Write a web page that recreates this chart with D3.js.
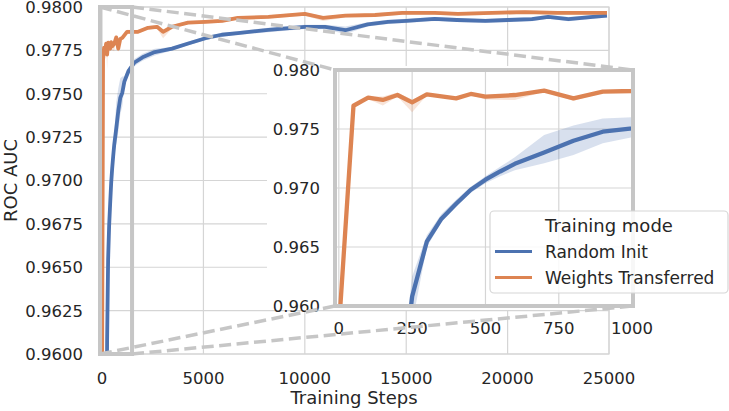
<!DOCTYPE html>
<html><head><meta charset="utf-8">
<script src="https://cdn.jsdelivr.net/npm/d3@7"></script>
<style>html,body{margin:0;padding:0;background:#fff;}svg{display:block;font-family:"DejaVu Sans",sans-serif;}</style>
</head><body>
<svg id="c" width="729" height="411"></svg>
<script>
// ---------- data ----------
const seriesNames = ["Random Init", "Weights Transferred"];
const colors = ["#4c72b0", "#dd8452"];

const blueSteps = [200,250,300,350,400,450,500,550,600,700,800,900,1000,1100,1300,1600,2000,2600,3450,4250,5100,5900,6700,8200,10000,11000,12000,13100,14100,15000,16400,17500,18900,20000,21200,22000,23000,24200,24900];
const blueMean  = [0.9500,0.9608,0.96545,0.9674,0.96866,0.96985,0.9707,0.9714,0.97205,0.9730,0.9740,0.97477,0.97506,0.9757,0.9763,0.9768,0.9771,0.9774,0.9776,0.9779,0.9782,0.9784,0.9785,0.97868,0.97885,0.97885,0.97866,0.9790,0.97914,0.9792,0.97931,0.97925,0.9792,0.97925,0.9793,0.97943,0.9793,0.97943,0.9795];
const blueLow   = [0.9480,0.9585,0.9650,0.9671,0.9684,0.9696,0.9704,0.9710,0.9715,0.9721,0.9728,0.9738,0.9743,0.9754,0.9761,0.9766,0.9769,0.9772,0.9775,0.9778,0.9781,0.9783,0.9784,0.97855,0.97873,0.97872,0.97845,0.97888,0.97902,0.97908,0.9792,0.97913,0.97908,0.97913,0.97918,0.97932,0.97918,0.97932,0.9794];
const blueHigh  = [0.9520,0.9625,0.9660,0.9678,0.9690,0.9701,0.9710,0.9718,0.9726,0.9745,0.9753,0.9759,0.9760,0.9760,0.9765,0.9770,0.9773,0.9776,0.9777,0.9780,0.9783,0.9785,0.9786,0.97881,0.97897,0.97898,0.97887,0.97912,0.97926,0.97932,0.97942,0.97937,0.97932,0.97937,0.97942,0.97954,0.97942,0.97954,0.9796];

const orangeSteps = [0,50,100,150,200,250,300,400,450,500,600,700,800,900,1000,1230,1775,2270,2710,3010,3450,4240,5080,5920,6700,8200,10000,10900,12000,13460,14800,16400,17550,19230,20860,22480,24900];
const orangeMean  = [0.9580,0.97697,0.97765,0.97746,0.97788,0.97726,0.97794,0.9776,0.97797,0.97774,0.97788,0.97825,0.9776,0.97816,0.97822,0.97857,0.97857,0.9788,0.97886,0.97857,0.97886,0.9791,0.97914,0.9792,0.97937,0.97943,0.9796,0.97937,0.9795,0.97954,0.97966,0.97966,0.9796,0.97966,0.97971,0.97966,0.97966];
const orangeLow   = [0.9575,0.97685,0.97755,0.9770,0.97775,0.97642,0.97785,0.97745,0.97787,0.9775,0.97745,0.97815,0.9774,0.97806,0.97812,0.97845,0.97847,0.9787,0.97876,0.9782,0.97876,0.979,0.97904,0.9791,0.97927,0.97933,0.9795,0.9792,0.9794,0.97944,0.97956,0.97956,0.9795,0.97956,0.97961,0.97956,0.97956];
const orangeHigh  = [0.9585,0.97709,0.97775,0.97776,0.9781,0.9775,0.97803,0.97772,0.97807,0.97784,0.97798,0.97835,0.97772,0.97826,0.97832,0.97869,0.97867,0.9789,0.97896,0.9787,0.97896,0.9792,0.97924,0.9793,0.97947,0.97953,0.9797,0.97947,0.9796,0.97964,0.97976,0.97976,0.9797,0.97976,0.97981,0.97976,0.97976];

const mainXTicks = [0,5000,10000,15000,20000,25000];
const mainYTicks = [0.96,0.9625,0.965,0.9675,0.97,0.9725,0.975,0.9775,0.98];
const insetXTicks = [0,250,500,750,1000];
const insetYTicks = [0.96,0.965,0.97,0.975,0.98];
const mainXDomain = [-150, 25000];
const yDomain = [0.96, 0.98];
const insetXDomain = [-13, 1003];
const markedXRange = [-100, 1480];   // region outlined on the main axes
const xTitle = "Training Steps", yTitle = "ROC AUC", legendTitle = "Training mode";

// ---------- build ----------
const svg = d3.select("#c");
const TXT = "#262626", GRID = "#d5d5d5", FRAME = "#c6c6c6";
const series = [
  {name: seriesNames[0], color: colors[0], steps: blueSteps, mean: blueMean, low: blueLow, high: blueHigh},
  {name: seriesNames[1], color: colors[1], steps: orangeSteps, mean: orangeMean, low: orangeLow, high: orangeHigh}
];
function rows(s){ return s.steps.map((st,i)=>({x:st,y:s.mean[i],lo:s.low[i],hi:s.high[i]})); }

// main axes
const M = {l:99, r:609, t:7, b:354};
const x = d3.scaleLinear().domain(mainXDomain).range([M.l, M.r]);
const y = d3.scaleLinear().domain(yDomain).range([M.b, M.t]);

svg.append("clipPath").attr("id","mclip").append("rect")
  .attr("x",M.l).attr("y",M.t).attr("width",M.r-M.l).attr("height",M.b-M.t);

const gMain = svg.append("g");
gMain.selectAll(".hg").data(mainYTicks).join("line")
  .attr("x1",M.l).attr("x2",M.r).attr("y1",d=>y(d)).attr("y2",d=>y(d))
  .attr("stroke",GRID).attr("stroke-width",1.2);
gMain.selectAll(".vg").data(mainXTicks).join("line")
  .attr("y1",M.t).attr("y2",M.b).attr("x1",d=>x(d)).attr("x2",d=>x(d))
  .attr("stroke",GRID).attr("stroke-width",1.2);
gMain.append("rect").attr("x",M.l).attr("y",M.t).attr("width",M.r-M.l).attr("height",M.b-M.t)
  .attr("fill","none").attr("stroke",GRID).attr("stroke-width",1.2);

gMain.selectAll(".yl").data(mainYTicks).join("text")
  .attr("x",83).attr("y",d=>y(d)).attr("dy","0.36em").attr("text-anchor","end")
  .attr("font-size","16.5px").attr("fill",TXT).text(d=>d3.format(".4f")(d));
gMain.selectAll(".xl").data(mainXTicks).join("text")
  .attr("x",d=>x(d)).attr("y",383.5).attr("text-anchor","middle")
  .attr("font-size","16.5px").attr("fill",TXT).text(d=>d);
svg.append("text").attr("x",(M.l+M.r)/2).attr("y",404).attr("text-anchor","middle")
  .attr("font-size","18px").attr("fill",TXT).text(xTitle);
svg.append("text").attr("transform",`translate(17,${(M.t+M.b)/2}) rotate(-90)`).attr("text-anchor","middle")
  .attr("font-size","18px").attr("fill",TXT).text(yTitle);

function drawSeries(g, xs, ys, lw, clipId){
  const area = d3.area().x(d=>xs(d.x)).y0(d=>ys(d.lo)).y1(d=>ys(d.hi));
  const line = d3.line().x(d=>xs(d.x)).y(d=>ys(d.y));
  const gg = g.append("g").attr("clip-path",`url(#${clipId})`);
  series.forEach(s=>{
    gg.append("path").datum(rows(s)).attr("d",area).attr("fill",s.color).attr("fill-opacity",0.22);
  });
  series.forEach(s=>{
    gg.append("path").datum(rows(s)).attr("d",line).attr("fill","none").attr("stroke",s.color)
      .attr("stroke-width",lw).attr("stroke-linejoin","round").attr("stroke-linecap","butt");
  });
}
drawSeries(gMain, x, y, 3.8, "mclip");

// inset
const I = {l:335, r:633, t:70, b:306};
const xi = d3.scaleLinear().domain(insetXDomain).range([I.l, I.r]);
const yi = d3.scaleLinear().domain(yDomain).range([I.b, I.t]);
svg.append("clipPath").attr("id","iclip").append("rect")
  .attr("x",I.l).attr("y",I.t).attr("width",I.r-I.l).attr("height",I.b-I.t);
const gIn = svg.append("g");
gIn.append("rect").attr("x",267).attr("y",66).attr("width",I.r+4-267).attr("height",310-66).attr("fill","#fff");
gIn.selectAll(".ihg").data(insetYTicks).join("line")
  .attr("x1",I.l).attr("x2",I.r).attr("y1",d=>yi(d)).attr("y2",d=>yi(d))
  .attr("stroke",GRID).attr("stroke-width",1.2);
gIn.selectAll(".ivg").data(insetXTicks).join("line")
  .attr("y1",I.t).attr("y2",I.b).attr("x1",d=>xi(d)).attr("x2",d=>xi(d))
  .attr("stroke",GRID).attr("stroke-width",1.2);
drawSeries(gIn, xi, yi, 4.3, "iclip");
gIn.append("rect").attr("x",I.l).attr("y",I.t).attr("width",I.r-I.l).attr("height",I.b-I.t)
  .attr("fill","none").attr("stroke",FRAME).attr("stroke-width",4);
gIn.selectAll(".iyl").data(insetYTicks).join("text")
  .attr("x",320).attr("y",d=>yi(d)).attr("dy","0.36em").attr("text-anchor","end")
  .attr("font-size","16.5px").attr("fill",TXT).text(d=>d3.format(".3f")(d));
gIn.selectAll(".ixl").data(insetXTicks).join("text")
  .attr("x",d=>xi(d)).attr("y",334).attr("text-anchor","middle")
  .attr("font-size","16.5px").attr("fill",TXT).text(d=>d);

// indicator rectangle + connectors
const gInd = svg.append("g");
const rx0 = x(markedXRange[0]), rx1 = x(markedXRange[1]), ry0 = y(yDomain[1]), ry1 = y(yDomain[0]);
gInd.append("rect").attr("x",rx0).attr("y",ry0).attr("width",rx1-rx0).attr("height",ry1-ry0)
  .attr("fill","none").attr("stroke",FRAME).attr("stroke-width",4);
const conns = [
  [rx0,ry0,xi(insetXDomain[0]),yi(yDomain[1])],
  [rx1,ry0,xi(insetXDomain[1]),yi(yDomain[1])],
  [rx0,ry1,xi(insetXDomain[0]),yi(yDomain[0])],
  [rx1,ry1,xi(insetXDomain[1]),yi(yDomain[0])]
];
gInd.selectAll(".cn").data(conns).join("line")
  .attr("x1",d=>d[0]).attr("y1",d=>d[1]).attr("x2",d=>d[2]).attr("y2",d=>d[3])
  .attr("stroke",FRAME).attr("stroke-width",3.5).attr("stroke-dasharray","12,5.5");

// legend
const gL = svg.append("g");
gL.append("rect").attr("x",490).attr("y",211).attr("width",238).attr("height",82).attr("rx",4)
  .attr("fill","#fff").attr("fill-opacity",0.85).attr("stroke","#d6d6d6").attr("stroke-width",1.2);
gL.append("text").attr("x",609).attr("y",232).attr("text-anchor","middle")
  .attr("font-size","18px").attr("fill",TXT).text(legendTitle);
series.forEach((s,i)=>{
  const yy = 251.5 + i*26;
  gL.append("line").attr("x1",495).attr("x2",532).attr("y1",yy).attr("y2",yy)
    .attr("stroke",s.color).attr("stroke-width",3);
  gL.append("text").attr("x",545).attr("y",yy+6.2).attr("font-size","17px").attr("fill",TXT).text(s.name);
});
</script>
</body></html>
